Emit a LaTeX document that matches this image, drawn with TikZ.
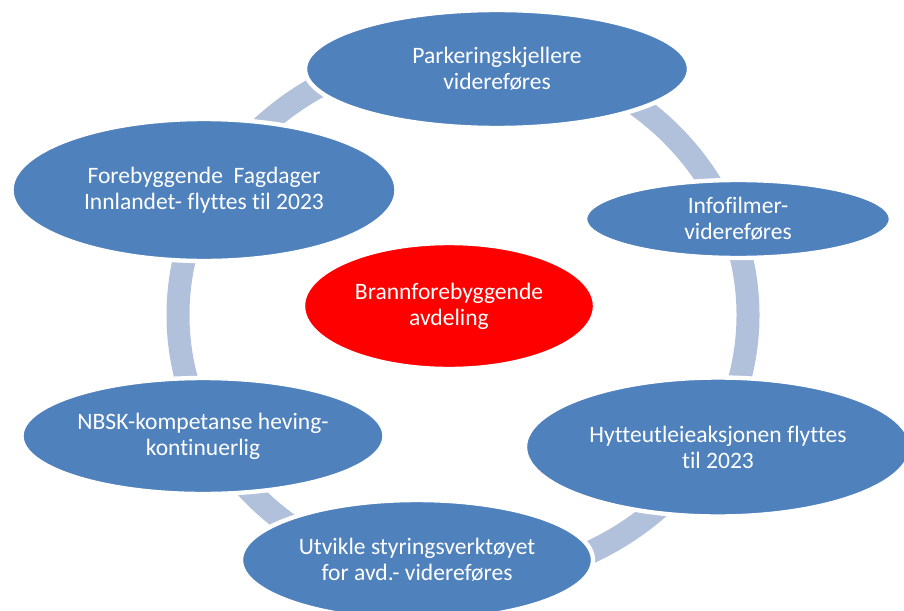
\documentclass[tikz,border=0pt]{standalone}
\usepackage{fontspec}
\setmainfont[Ligatures=NoCommon]{Carlito}
\usepackage{tikz}
\usetikzlibrary{calc,positioning,shapes.geometric}
\definecolor{boblue}{HTML}{4F81BD}
\definecolor{ringblue}{HTML}{B2C1DB}
\tikzset{
    punkt/.style={
        ellipse,
        draw=white,
        line width=2.5pt,
        fill=boblue,
        text=white,
        align=center,
        inner sep=0pt,
        font=\fontsize{13.4}{14.8}\selectfont,
    },
    senter/.style={
        punkt,
        fill=red,
    },
    ring/.style={
        draw=ringblue,
        line width=0.46cm,
    },
}
\begin{document}
\begin{tikzpicture}
    \useasboundingbox (0,0) rectangle (18.08,12.2);
    % ring behind the ellipses
    \coordinate (rc) at (9.26,5.9);
    \draw[ring] (rc) ellipse [x radius=5.7cm, y radius=5.3cm];
    \node[senter,minimum width=5.84cm,minimum height=2.52cm](avd) at (8.98,6.08){Brannforebyggende\\avdeling};
    \node[punkt,minimum width=7.68cm,minimum height=2.36cm](park) at (9.94,10.82){Parkeringskjellere\\videreføres};
    \node[punkt,minimum width=6.12cm,minimum height=1.56cm](info) at (14.76,7.82){Infofilmer-\\videreføres};
    \node[punkt,minimum width=7.72cm,minimum height=2.78cm](hytte) at (14.36,3.26){Hytteutleieaksjonen flyttes\\til 2023};
    \node[punkt,minimum width=7.04cm,minimum height=2.4cm](utv) at (8.34,1.0){Utvikle styringsverktøyet\\for avd.- videreføres};
    \node[punkt,minimum width=7.26cm,minimum height=2.32cm](nbsk) at (4.06,3.48){NBSK-kompetanse heving-\\kontinuerlig};
    \node[punkt,minimum width=7.7cm,minimum height=2.84cm](fore) at (4.08,8.4){Forebyggende\ \ Fagdager\\Innlandet- flyttes til 2023};
\end{tikzpicture}
\end{document}
